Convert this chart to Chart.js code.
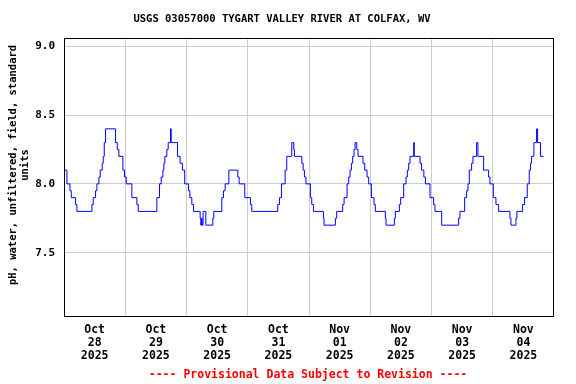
<!DOCTYPE html>
<html lang="en">
<head>
    <meta charset="UTF-8">
    <title>USGS 03057000 pH</title>
    <script src="https://cdn.jsdelivr.net/npm/chart.js"></script>
    <style>
        body { margin: 0; background: #ffffff; }
        canvas { display: block; }
    </style>
</head>
<body>
    <canvas id="ph_chart" width="576" height="384"></canvas>
    <script>
        // hours since Oct 28 00:00 where the reading changes, and the reading from then on
        const changeHours = [
            0, 1.15, 2.32, 2.85, 4.54, 5.06, 10.94, 11.46, 12.37, 12.89, 13.68, 14.2, 14.98, 15.37, 15.77, 16.29,
            20.2, 20.86, 21.5, 23.08, 23.73, 24.38, 26.6, 28.56, 29.08, 36.39, 37.43, 38.08, 38.74, 39.13, 39.52,
            40.3, 40.83, 41.74, 42.0, 44.48, 45.5, 46.4, 47.3, 48.8, 49.31, 50.09, 50.74, 53.35, 53.6, 53.9, 54.1,
            54.5, 55.57, 58.31, 58.7, 61.84, 62.49, 63.14, 64.58, 68.1, 68.63, 70.84, 73.06, 73.58, 83.76, 84.42,
            85.2, 86.64, 87.29, 89.25, 90.03, 90.29, 93.2, 93.7, 94.2, 94.8, 96.55, 97.08, 97.73, 101.65, 101.9,
            106.34, 106.86, 109.21, 109.74, 110.91, 111.56, 112.08, 112.61, 113.13, 113.65, 114.04, 114.7, 115.22,
            117.17, 117.83, 118.74, 119.39, 120.44, 121.48, 122.0, 125.92, 126.18, 129.44, 129.83, 131.4, 131.92,
            133.1, 134.01, 134.53, 135.06, 135.58, 137.01, 137.25, 139.5, 140.1, 141.0, 141.6, 143.41, 144.84,
            145.37, 147.98, 154.63, 155.16, 156.98, 157.77, 158.29, 158.81, 159.72, 160.25, 161.68, 162.2, 164.42,
            166.38, 166.9, 168.21, 169.25, 170.3, 174.74, 175.13, 177.08, 177.47, 179.69, 180.47, 181.52, 182.3,
            182.82, 183.22, 184.13, 185.18, 185.57, 186.74, 187.92
        ];
        const phValues = [
            8.1, 8.0, 7.95, 7.9, 7.85, 7.8, 7.85, 7.9, 7.95, 8.0, 8.05, 8.1, 8.15, 8.2, 8.3, 8.4,
            8.3, 8.25, 8.2, 8.1, 8.05, 8.0, 7.9, 7.85, 7.8, 7.9, 8.0, 8.05, 8.1, 8.15, 8.2,
            8.25, 8.3, 8.4, 8.3, 8.2, 8.15, 8.1, 8.0, 7.95, 7.9, 7.85, 7.8, 7.75, 7.7, 7.75, 7.7,
            7.8, 7.7, 7.75, 7.8, 7.9, 7.95, 8.0, 8.1, 8.05, 8.0, 7.9, 7.85, 7.8, 7.85, 7.9,
            8.0, 8.1, 8.2, 8.3, 8.25, 8.2, 8.15, 8.1, 8.05, 8.0, 7.9, 7.85, 7.8, 7.75, 7.7,
            7.75, 7.8, 7.85, 7.9, 8.0, 8.05, 8.1, 8.15, 8.2, 8.25, 8.3, 8.25, 8.2,
            8.15, 8.1, 8.05, 8.0, 7.9, 7.85, 7.8, 7.75, 7.7, 7.75, 7.8, 7.85, 7.9,
            8.0, 8.05, 8.1, 8.15, 8.2, 8.3, 8.2, 8.15, 8.1, 8.05, 8.0, 7.9, 7.85,
            7.8, 7.7, 7.75, 7.8, 7.9, 7.95, 8.0, 8.1, 8.15, 8.2, 8.3, 8.2, 8.1,
            8.05, 8.0, 7.9, 7.85, 7.8, 7.75, 7.7, 7.75, 7.8, 7.85, 7.9, 8.0, 8.1,
            8.15, 8.2, 8.3, 8.4, 8.3, 8.2, 8.2
        ];

        const dayMonths = ['Oct', 'Oct', 'Oct', 'Oct', 'Nov', 'Nov', 'Nov', 'Nov'];
        const dayNumbers = ['28', '29', '30', '31', '01', '02', '03', '04'];
        const dayYears = ['2025', '2025', '2025', '2025', '2025', '2025', '2025', '2025'];
        const yTickValues = [7.5, 8.0, 8.5, 9.0];

        const chartTitle = 'USGS 03057000 TYGART VALLEY RIVER AT COLFAX, WV';
        const yAxisTitle = ['pH, water, unfiltered, field, standard', 'units'];
        const footerText = '---- Provisional Data Subject to Revision ----';

        const monoFont = '"DejaVu Sans Mono", "Liberation Mono", monospace';

        // frame round the plot, title, axis title and footer
        const decorPlugin = {
            id: 'decor',
            afterDraw(chart) {
                const c = chart.ctx;
                const a = chart.chartArea;
                c.save();
                c.strokeStyle = '#000000';
                c.lineWidth = 1;
                c.strokeRect(Math.round(a.left) + 0.5, Math.round(a.top) + 0.5,
                    Math.round(a.right - a.left) - 1, Math.round(a.bottom - a.top));

                c.fillStyle = '#000000';
                c.textAlign = 'center';
                c.textBaseline = 'middle';
                c.font = 'bold 10.5px ' + monoFont;
                c.fillText(chartTitle, 282, 19);

                c.save();
                c.translate(13, 165);
                c.rotate(-Math.PI / 2);
                c.font = 'bold 10.5px ' + monoFont;
                c.fillText(yAxisTitle[0], 0, 0);
                c.fillText(yAxisTitle[1], 0, 12);
                c.restore();

                c.fillStyle = '#ff0000';
                c.font = 'bold 11.5px ' + monoFont;
                c.fillText(footerText, 308, 375);
                c.restore();
            }
        };

        const ctx = document.getElementById('ph_chart').getContext('2d');
        const phChart = new Chart(ctx, {
            type: 'line',
            data: {
                datasets: [{
                    data: changeHours.map((h, i) => ({ x: h, y: phValues[i] })),
                    stepped: 'before',
                    borderColor: '#0000ff',
                    borderWidth: 1,
                    pointRadius: 0,
                    fill: false
                }]
            },
            options: {
                responsive: false,
                animation: false,
                layout: { padding: { top: 38, right: 22, left: 0, bottom: 0 } },
                plugins: {
                    legend: { display: false },
                    tooltip: { enabled: false }
                },
                scales: {
                    x: {
                        type: 'linear',
                        min: 0,
                        max: 192,
                        afterBuildTicks: scale => {
                            const ticks = [];
                            for (let h = 0; h <= 192; h += 12) ticks.push({ value: h });
                            scale.ticks = ticks;
                        },
                        afterFit: scale => { scale.height = 68; },
                        border: { display: false },
                        grid: {
                            drawTicks: false,
                            color: c => (c.tick && c.tick.value % 24 === 0 && c.tick.value > 0 && c.tick.value < 192) ? '#cccccc' : 'rgba(0,0,0,0)',
                            lineWidth: 1
                        },
                        ticks: {
                            autoSkip: false,
                            maxRotation: 0,
                            padding: 8,
                            color: '#000000',
                            font: { family: monoFont, size: 11.5, weight: 'bold', lineHeight: 1.13 },
                            callback: value => {
                                if (value % 24 !== 12) return '';
                                const d = (value - 12) / 24;
                                return [dayMonths[d], dayNumbers[d], dayYears[d]];
                            }
                        }
                    },
                    y: {
                        min: 7.04,
                        max: 9.06,
                        afterBuildTicks: scale => {
                            scale.ticks = yTickValues.map(v => ({ value: v }));
                        },
                        afterFit: scale => { scale.width = 64; },
                        border: { display: false },
                        grid: { drawTicks: false, color: '#cccccc', lineWidth: 1 },
                        ticks: {
                            padding: 9,
                            color: '#000000',
                            font: { family: monoFont, size: 11, weight: 'bold' },
                            callback: value => value.toFixed(1)
                        }
                    }
                }
            },
            plugins: [decorPlugin]
        });
    </script>
</body>
</html>
